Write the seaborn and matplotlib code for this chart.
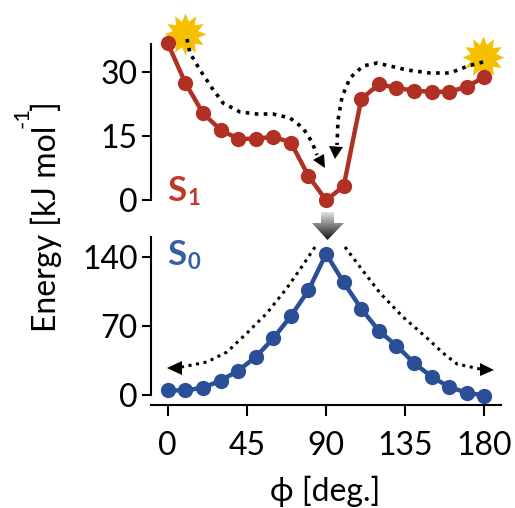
import numpy as np
import pandas as pd
import matplotlib
matplotlib.use('Agg')
import matplotlib.pyplot as plt
from matplotlib.patches import Polygon
from matplotlib.path import Path
import seaborn as sns

# Values
phi = [0, 10, 20, 30, 40, 50, 60, 70, 80, 90, 100, 110, 120, 130, 140, 150, 160, 170, 180]
s1_energy = [36.8, 27.5, 20.4, 16.5, 14.4, 14.4, 14.9, 13.5, 5.7, 0.0, 3.3, 23.7, 27.2, 26.3, 25.7, 25.4, 25.4, 26.6, 28.9]
s0_energy = [4.7, 4.7, 7.4, 14.5, 24.6, 38.5, 57.4, 80, 106, 143, 114, 87.4, 65, 50, 32.4, 18.5, 8.1, 2.3, -0.5]
x_ticks = [0, 45, 90, 135, 180]
s1_ticks = [0, 15, 30]
s0_ticks = [0, 70, 140]
star_phi = [9.8, 179]
star_energy = [39, 33.6]

# Guide curves and arrow heads, in pixels of the picture
W, H = 515, 508
path_a = [(187, 39), (190, 53), (200, 70), (212, 88), (223, 103), (240, 112), (257, 114), (273, 114), (290, 118), (303, 128), (312, 142), (317, 155)]
path_b = [(483, 62), (468, 66), (450, 73), (430, 73), (407, 70), (390, 66), (377, 63), (363, 66), (350, 78), (342, 97), (338, 120), (337, 145)]
path_c = [(315, 247), (303, 265), (287, 288), (267, 313), (247, 333), (227, 352), (207, 362), (182, 367)]
path_d = [(345, 247), (360, 267), (380, 293), (403, 317), (427, 338), (443, 353), (457, 364), (480, 369)]
heads = [
    [(313, 160), (324, 154), (325, 168)],
    [(329, 146), (343, 147), (335, 159)],
    [(167, 368), (182, 361), (182, 375)],
    [(494, 370), (480, 363), (480, 376)],
]
arrow_outline = [(321, 212), (334, 212), (334, 223), (344, 223), (327.5, 240), (312, 223), (321, 223)]

RED = '#b03024'
BLUE = '#2b4f96'

sns.set_style('ticks')
plt.rcParams['font.family'] = ['Lato', 'DejaVu Sans']
plt.rcParams['text.color'] = 'black'

fig = plt.figure(figsize=(W / 100, H / 100), dpi=100)

def px_axes(left, right, top, bottom):
    return fig.add_axes([left / W, 1 - bottom / H, (right - left) / W, (bottom - top) / H])

ax1 = px_axes(151, 501, 44, 200.3)
ax0 = px_axes(151, 501, 237, 405)
over = fig.add_axes([0, 0, 1, 1], zorder=5)
over.set_xlim(0, W)
over.set_ylim(H, 0)
over.axis('off')

df = pd.DataFrame({'phi': phi, 's1': s1_energy, 's0': s0_energy})

star = Path.unit_regular_star(12, innerCircle=0.62)
ax1.scatter(star_phi, star_energy, marker=star, s=920, color='#f5c000', linewidths=0, clip_on=False, zorder=1)
sns.lineplot(data=df, x='phi', y='s1', ax=ax1, color=RED, lw=3.2, marker='o', markersize=11,
             markeredgewidth=0, clip_on=False, zorder=3)
sns.lineplot(data=df, x='phi', y='s0', ax=ax0, color=BLUE, lw=3.2, marker='o', markersize=11,
             markeredgewidth=0, clip_on=False, zorder=3)

for ax in (ax0, ax1):
    ax.set_xlim(-9.5, 189.4)
    ax.set_xlabel('')
    ax.set_ylabel('')
    ax.patch.set_alpha(0)
    for s in ax.spines.values():
        s.set_linewidth(1.5)
        s.set_color('black')

ax1.set_ylim(0, 36.6)
ax1.set_yticks(s1_ticks)
ax1.set_xticks([])
sns.despine(ax=ax1, bottom=True)

ax0.set_ylim(-10.1, 160)
ax0.set_yticks(s0_ticks)
ax0.set_xticks(x_ticks)
sns.despine(ax=ax0)
ax0.spines['left'].set_bounds(0, 160)

for ax in (ax0, ax1):
    ax.tick_params(axis='y', labelsize=23, labelcolor='black', length=6.5, width=1.5, pad=3, color='black')
ax0.tick_params(axis='x', labelsize=23, labelcolor='black', length=8, width=1.5, pad=11, color='black')

# dotted guides
for path, lw in [(path_a, 2.6), (path_b, 2.6), (path_c, 2.2), (path_d, 2.2)]:
    xs, ys = zip(*path)
    over.plot(xs, ys, color='black', lw=lw, ls=(0, (1, 1.5)))
for h in heads:
    over.add_patch(Polygon(h, closed=True, fc='black', ec='none'))

# grey arrow S1 -> S0
grad = np.linspace(0.88, 0.08, 64).reshape(-1, 1)
im = over.imshow(grad, cmap='gray', vmin=0, vmax=1, extent=(312, 344, 240, 212), aspect='auto')
im.set_clip_path(Polygon(arrow_outline, closed=True, transform=over.transData))
over.set_xlim(0, W)
over.set_ylim(H, 0)

# state labels
over.text(167, 201, 'S', color='#c0392b', fontsize=25, fontweight='bold', va='baseline')
over.text(188, 205, '1', color='#c0392b', fontsize=16, fontweight='bold', va='baseline')
over.text(167, 265, 'S', color='#3560a5', fontsize=25, fontweight='bold', va='baseline')
over.text(188, 269, '0', color='#3560a5', fontsize=16, fontweight='bold', va='baseline')

# axis titles
over.text(325, 491, '\u03d5 [deg.]', fontsize=23, ha='center', va='center')
over.text(46, 332, 'Energy [kJ mol', fontsize=23, rotation=90, ha='center', va='bottom')
over.text(23, 128, '-1', fontsize=16, rotation=90, ha='center', va='bottom')
over.text(46, 110, ']', fontsize=23, rotation=90, ha='center', va='bottom')

fig.savefig('out.png', dpi=100)
